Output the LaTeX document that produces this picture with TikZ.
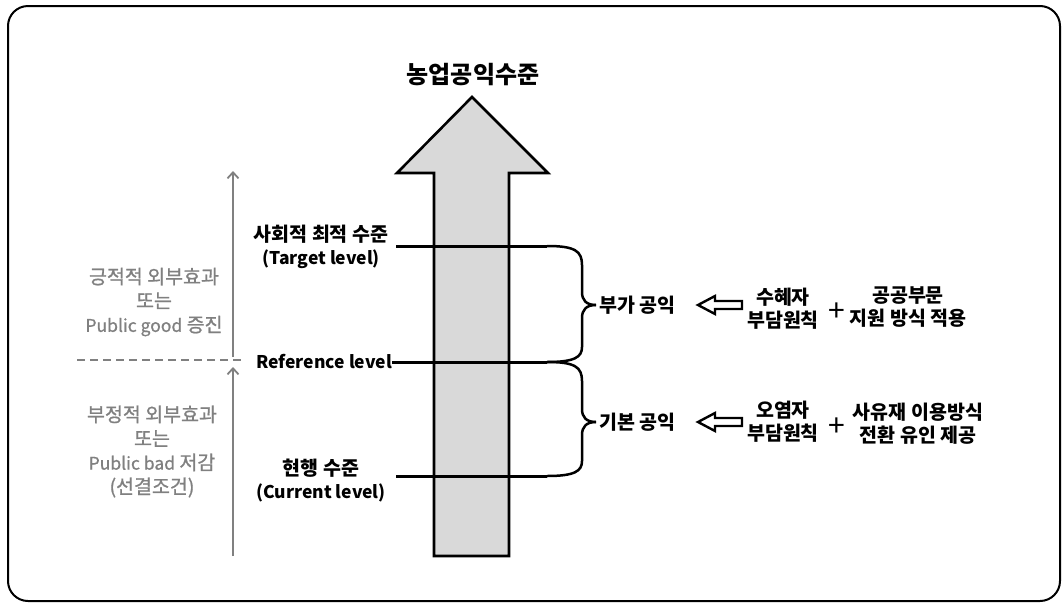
\documentclass[tikz,border=0pt]{standalone}
\usepackage{fontspec}
\setmainfont{Noto Sans CJK KR}
\newfontfamily\gfont[FakeBold=0.9]{Noto Sans CJK KR}
\usetikzlibrary{arrows.meta}
\definecolor{gtxt}{HTML}{808080}
\definecolor{afill}{HTML}{D9D9D9}
\newcommand\latn[1]{{\fontsize{17.5}{23}\selectfont #1}}
\begin{document}
\begin{tikzpicture}[x=1pt,y=-1pt,
  lbl/.style={font=\fontsize{19.5}{23}\selectfont\bfseries, inner sep=0pt, align=center},
  ttl/.style={font=\fontsize{24}{26}\selectfont\bfseries, inner sep=0pt},
  glbl/.style={font=\gfont\fontsize{19.5}{24}\selectfont, text=gtxt, inner sep=0pt, align=center},
  plus/.style={font=\fontsize{30}{30}\selectfont, inner sep=0pt},
  lvl/.style={line width=3pt},
  garrow/.style={draw=gtxt, line width=1.8pt, -{Straight Barb[length=6pt,width=11pt,line width=1.8pt]}},
  brace/.style={line width=2.5pt},
  hollow/.style={line width=2.4pt, line join=miter},
]
\useasboundingbox (0,0) rectangle (1062,603);
\draw[line width=2pt, rounded corners=20pt] (8,6) rectangle (1060,601);
% big arrow
\draw[line width=2.6pt, fill=afill, line join=miter] (434,556) -- (434,173) -- (397,173) -- (472,97) -- (548,173) -- (509,173) -- (509,556) -- cycle;
\node[ttl] (title) at (473,75) {농업공익수준};
% level labels
\node[lbl] (target) at (321,247) {사회적 최적 수준\\\latn{(Target level)}};
\node[lbl, anchor=east] (ref) at (392,362) {\latn{Reference level}};
\node[lbl] (cur) at (321,481) {현행 수준\\\latn{(Current level)}};
% level lines
\coordinate (t1) at (396,246); \coordinate (t2) at (547,246);
\coordinate (r2) at (547,362);
\coordinate (c1) at (396,476); \coordinate (c2) at (547,476);
\draw[lvl] (t1) -- (t2);
\draw[lvl] (ref.east) -- (r2);
\draw[lvl] (c1) -- (c2);
% gray arrows
\coordinate (g0) at (233,556); \coordinate (g1) at (233,367);
\coordinate (g2) at (233,357); \coordinate (g3) at (233,171);
\draw[garrow] (g0) -- (g1);
\draw[garrow] (g2) -- (g3);
\coordinate (d1) at (77,360); \coordinate (d2) at (244,360);
\draw[draw=gtxt, line width=1.6pt, dash pattern=on 8pt off 5pt] (d1) -- (d2);
% gray texts
\node[glbl] (pos) at (154,302) {긍적적 외부효과\\또는\\\latn{Public good} 증진};
\node[glbl] (neg) at (152,451.5) {부정적 외부효과\\또는\\\latn{Public bad} 저감\\(선결조건)};
% braces
\draw[brace] (t2) .. controls (575,246) and (582,251) .. (582,265) -- (582,292) .. controls (582,300) and (586,305) .. (596,305);
\draw[brace] (596,305) .. controls (586,305) and (582,310) .. (582,318) -- (582,347) .. controls (582,357) and (575,362) .. (r2);
\draw[brace] (r2) .. controls (575,362) and (582,367) .. (582,381) -- (582,409) .. controls (582,417) and (586,422) .. (596,422);
\draw[brace] (596,422) .. controls (586,422) and (582,427) .. (582,435) -- (582,461) .. controls (582,471) and (575,476) .. (c2);
% right texts
\node[lbl, anchor=west] (bu) at (599,305) {부가 공익};
\node[lbl] (sh) at (783,309) {수혜자\\부담원칙};
\node[plus] (p1) at (837,312) {+};
\node[lbl] (gg) at (908,307) {공공부문\\지원 방식 적용};
\node[lbl, anchor=west] (bon) at (599,422) {기본 공익};
\node[lbl] (oy) at (783,421.5) {오염자\\부담원칙};
\node[plus] (p2) at (837,427) {+};
\node[lbl] (sy) at (918,423.5) {사유재 이용방식\\전환 유인 제공};
% hollow arrows
\coordinate (ha1) at (698,305);
\coordinate (ha2) at (698,422);
\draw[hollow] (ha1) -- ++(17,-9) -- ++(0,5) -- ++(27,0) -- ++(0,8) -- ++(-27,0) -- ++(0,5) -- cycle;
\draw[hollow] (ha2) -- ++(17,-9) -- ++(0,5) -- ++(27,0) -- ++(0,8) -- ++(-27,0) -- ++(0,5) -- cycle;
\end{tikzpicture}
\end{document}
